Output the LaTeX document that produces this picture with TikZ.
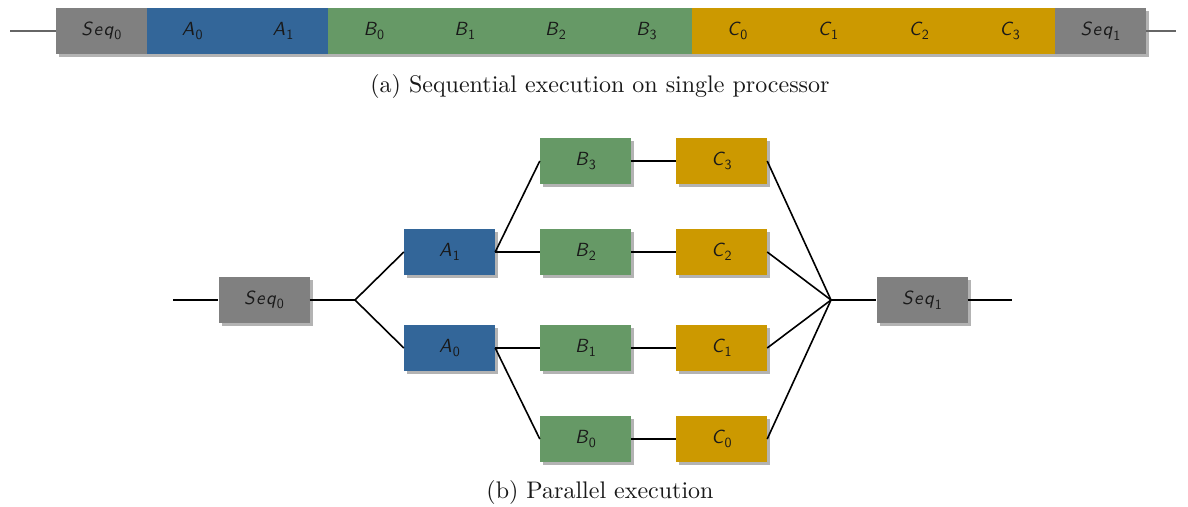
\documentclass[tikz,border=0pt]{standalone}
\usepackage{fontspec}
\usetikzlibrary{shadows}
\newfontfamily\capfont{lmroman10-regular}[Extension=.otf]
\newfontfamily\nodeit{lmsans10-oblique}[Extension=.otf,LetterSpace=8]
\newfontfamily\nodeup{lmsans10-regular}[Extension=.otf]
\definecolor{cgray}{HTML}{808080}
\definecolor{cblue}{HTML}{336699}
\definecolor{cgreen}{HTML}{669966}
\definecolor{cgold}{HTML}{CC9900}
\newcommand{\lbl}[2]{{\nodeit #1}\kern1pt\raisebox{-4.5pt}{\fontsize{14}{15}\nodeup #2}}
\tikzset{
  cell/.style={minimum width=90.83pt, minimum height=46pt, inner sep=0pt, text=black!90,
    font=\fontsize{19}{21}\selectfont,
    drop shadow={shadow xshift=3pt, shadow yshift=-3pt, fill=black!40, opacity=0.75}},
  pbox/.style={cell, minimum width=91pt},
  conn/.style={line width=1.6pt, black},
  tconn/.style={line width=1.2pt, black!60},
  captext/.style={font=\capfont\fontsize{24}{28}\selectfont, text=black!90}
}
\begin{document}
\begin{tikzpicture}[x=1pt,y=-1pt]
\useasboundingbox (0,0) rectangle (1188,506);
% ---------- (a) sequential ----------
\foreach \i/\c/\t/\s in {0/cgray/Seq/0,1/cblue/A/0,2/cblue/A/1,3/cgreen/B/0,4/cgreen/B/1,5/cgreen/B/2,6/cgreen/B/3,7/cgold/C/0,8/cgold/C/1,9/cgold/C/2,10/cgold/C/3,11/cgray/Seq/1}
  \node[cell, fill=\c] (s\i) at ({56+90.83*(\i+0.5)},31) {\lbl{\t}{\s}};
\coordinate (tl) at (10,31);
\coordinate (tr) at (1176,31);
\draw[tconn] (tl) -- (s0.west);
\draw[tconn] (s11.east) -- (tr);
\node[captext] (capa) at (600,86) {(a) Sequential execution on single processor};
% ---------- (b) parallel ----------
\node[pbox, fill=cgray] (seq0) at (264,300) {\lbl{Seq}{0}};
\node[pbox, fill=cblue] (a1) at (449.5,252) {\lbl{A}{1}};
\node[pbox, fill=cblue] (a0) at (449.5,348) {\lbl{A}{0}};
\node[pbox, fill=cgreen] (b3) at (585.5,161) {\lbl{B}{3}};
\node[pbox, fill=cgreen] (b2) at (585.5,252) {\lbl{B}{2}};
\node[pbox, fill=cgreen] (b1) at (585.5,348) {\lbl{B}{1}};
\node[pbox, fill=cgreen] (b0) at (585.5,439) {\lbl{B}{0}};
\node[pbox, fill=cgold] (c3) at (721.5,161) {\lbl{C}{3}};
\node[pbox, fill=cgold] (c2) at (721.5,252) {\lbl{C}{2}};
\node[pbox, fill=cgold] (c1) at (721.5,348) {\lbl{C}{1}};
\node[pbox, fill=cgold] (c0) at (721.5,439) {\lbl{C}{0}};
\node[pbox, fill=cgray] (seq1) at (922,300) {\lbl{Seq}{1}};
\coordinate (in) at (173,300);
\coordinate (j1) at (355,300);
\coordinate (j2) at (831,300);
\coordinate (out) at (1012,300);
\draw[conn] (in) -- (seq0.west);
\draw[conn] (seq0.east) -- (j1);
\draw[conn] (j1) -- (a1.west);
\draw[conn] (j1) -- (a0.west);
\draw[conn] (a1.east) -- (b3.west);
\draw[conn] (a1.east) -- (b2.west);
\draw[conn] (a0.east) -- (b1.west);
\draw[conn] (a0.east) -- (b0.west);
\draw[conn] (b3.east) -- (c3.west);
\draw[conn] (b2.east) -- (c2.west);
\draw[conn] (b1.east) -- (c1.west);
\draw[conn] (b0.east) -- (c0.west);
\draw[conn] (c3.east) -- (j2);
\draw[conn] (c2.east) -- (j2);
\draw[conn] (c1.east) -- (j2);
\draw[conn] (c0.east) -- (j2);
\draw[conn] (j2) -- (seq1.west);
\draw[conn] (seq1.east) -- (out);
\node[captext] (capb) at (600,492) {(b) Parallel execution};
\end{tikzpicture}
\end{document}
